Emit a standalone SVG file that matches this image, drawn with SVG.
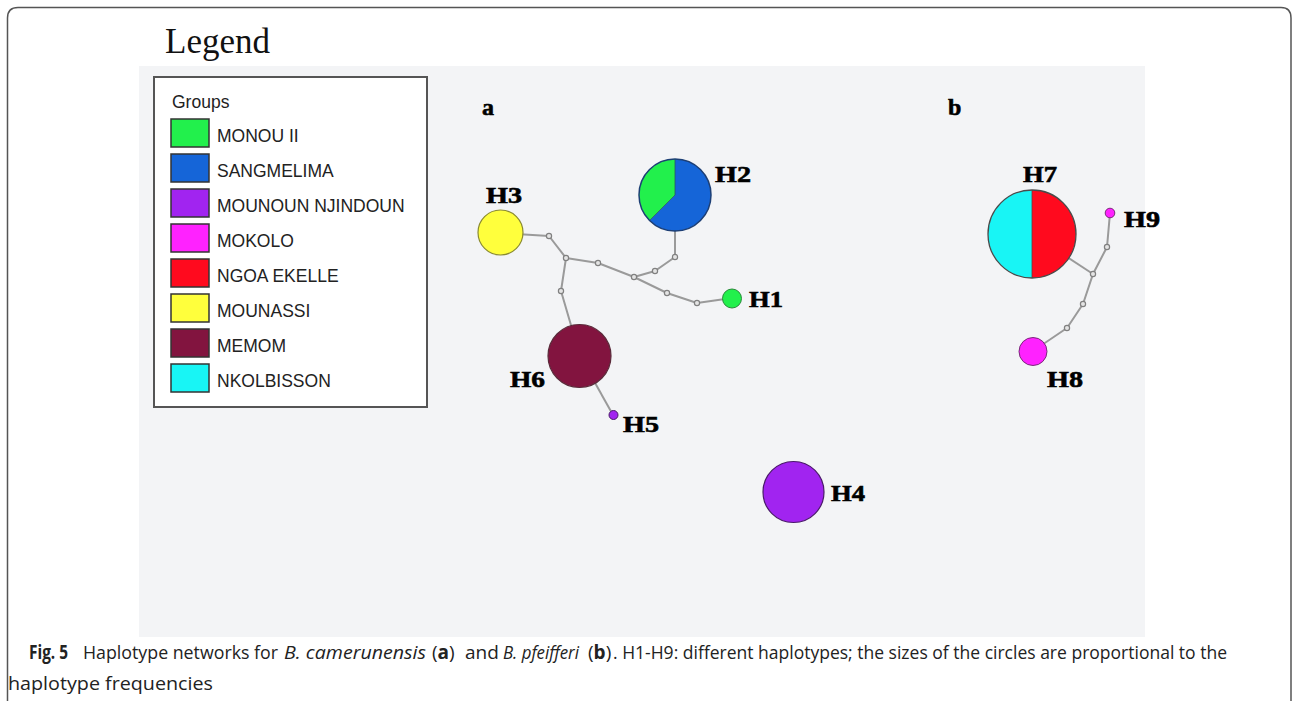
<svg xmlns="http://www.w3.org/2000/svg" width="1292" height="701" viewBox="0 0 1292 701">
<style>
.hl{font-family:"Liberation Serif","Times New Roman",serif;font-weight:bold;font-size:24px;fill:#000;stroke:#000;stroke-width:0.6}
.lg{font-family:"Liberation Sans",Arial,sans-serif;font-size:17.5px;fill:#222}
.sw{stroke:#333;stroke-width:1.5}
.edge{fill:none;stroke:#9a9a9a;stroke-width:2;stroke-linejoin:round}
.mv{fill:#e4e4e4;stroke:#808080;stroke-width:1.2}
.cap{font-family:"Open Sans","Noto Sans",sans-serif;font-size:19px;fill:#222}
.b{font-weight:bold}
.i{font-style:italic}
</style>
<rect width="1292" height="701" fill="#fff"/>
<path d="M7.5,701 V18 Q7.5,7.5 18,7.5 H1281 Q1291,7.5 1291,18 V701" fill="none" stroke="#555" stroke-width="1.5"/>
<rect x="139" y="66" width="1006" height="571" fill="#f3f4f6"/>
<text x="165" y="53" font-family="Liberation Serif,Times New Roman,serif" font-size="35" fill="#111">Legend</text>

<g id="legend">
<rect x="154" y="77" width="273" height="330" fill="#fff" stroke="#555" stroke-width="2"/>
<text class="lg" x="172" y="108">Groups</text>
<rect class="sw" x="171" y="119" width="38" height="28" fill="#22F04C"/>
<text class="lg" x="217" y="142">MONOU II</text>
<rect class="sw" x="171" y="154" width="38" height="28" fill="#1565D8"/>
<text class="lg" x="217" y="177">SANGMELIMA</text>
<rect class="sw" x="171" y="189" width="38" height="28" fill="#A124F0"/>
<text class="lg" x="217" y="212">MOUNOUN NJINDOUN</text>
<rect class="sw" x="171" y="224" width="38" height="28" fill="#FF22FF"/>
<text class="lg" x="217" y="247">MOKOLO</text>
<rect class="sw" x="171" y="259" width="38" height="28" fill="#FF0A1E"/>
<text class="lg" x="217" y="282">NGOA EKELLE</text>
<rect class="sw" x="171" y="294" width="38" height="28" fill="#FFFF3C"/>
<text class="lg" x="217" y="317">MOUNASSI</text>
<rect class="sw" x="171" y="329" width="38" height="28" fill="#82143F"/>
<text class="lg" x="217" y="352">MEMOM</text>
<rect class="sw" x="171" y="364" width="38" height="28" fill="#18F5F5"/>
<text class="lg" x="217" y="387">NKOLBISSON</text>
</g>

<text class="hl" x="482" y="115">a</text>
<text class="hl" x="948" y="115">b</text>

<g id="connectors">
<polyline class="edge" points="500,233 549,236 566,258"/>
<polyline class="edge" points="566,258 598,263 634,277"/>
<polyline class="edge" points="675,195 675,257 655,271 634,277"/>
<polyline class="edge" points="634,277 667,293 697,303 732,298"/>
<polyline class="edge" points="566,258 561,291 580,356"/>
<polyline class="edge" points="580,356 613,415"/>
<polyline class="edge" points="1032,234 1093,274"/>
<polyline class="edge" points="1093,274 1107,247 1110,213"/>
<polyline class="edge" points="1093,274 1083,304 1067,328 1033,351"/>
<circle class="mv" cx="549" cy="236" r="2.6"/>
<circle class="mv" cx="566" cy="258" r="2.6"/>
<circle class="mv" cx="598" cy="263" r="2.6"/>
<circle class="mv" cx="634" cy="277" r="2.6"/>
<circle class="mv" cx="675" cy="257" r="2.6"/>
<circle class="mv" cx="655" cy="271" r="2.6"/>
<circle class="mv" cx="667" cy="293" r="2.6"/>
<circle class="mv" cx="697" cy="303" r="2.6"/>
<circle class="mv" cx="561" cy="291" r="2.6"/>
<circle class="mv" cx="1093" cy="274" r="2.6"/>
<circle class="mv" cx="1107" cy="247" r="2.6"/>
<circle class="mv" cx="1083" cy="304" r="2.6"/>
<circle class="mv" cx="1067" cy="328" r="2.6"/>
</g>

<g id="H1">
<circle cx="732" cy="298.5" r="9.5" fill="#22F04C" stroke="#2a8a3a" stroke-width="1"/>
<text class="hl" x="749" y="307" textLength="34" lengthAdjust="spacingAndGlyphs">H1</text>
</g>
<g id="H2">
<path d="M675,195 L675,159 A36,36 0 1 1 649.54,220.46 Z" fill="#1565D8"/>
<path d="M675,195 L649.54,220.46 A36,36 0 0 1 675,159 Z" fill="#22F04C"/>
<line x1="675" y1="195" x2="675" y2="159" stroke="#2a5a5a" stroke-width="0.8"/>
<line x1="675" y1="195" x2="649.54" y2="220.46" stroke="#2a5a5a" stroke-width="0.8"/>
<circle cx="675" cy="195" r="36" fill="none" stroke="#1d3f75" stroke-width="1.5"/>
<text class="hl" x="715" y="182" textLength="36" lengthAdjust="spacingAndGlyphs">H2</text>
</g>
<g id="H3">
<circle cx="500.5" cy="232.5" r="22.5" fill="#FFFF3C" stroke="#8a8a30" stroke-width="1.2"/>
<text class="hl" x="486" y="203" textLength="36" lengthAdjust="spacingAndGlyphs">H3</text>
</g>
<g id="H4">
<circle cx="793.5" cy="492" r="30.5" fill="#A124F0" stroke="#4a1a6a" stroke-width="1.2"/>
<text class="hl" x="831" y="501" textLength="34" lengthAdjust="spacingAndGlyphs">H4</text>
</g>
<g id="H5">
<circle cx="613.5" cy="415" r="4.5" fill="#A124F0" stroke="#4a1a6a" stroke-width="1"/>
<text class="hl" x="623" y="432" textLength="36" lengthAdjust="spacingAndGlyphs">H5</text>
</g>
<g id="H6">
<circle cx="579.5" cy="356" r="31.5" fill="#82143F" stroke="#5a2a3a" stroke-width="1.2"/>
<text class="hl" x="510" y="387" textLength="35" lengthAdjust="spacingAndGlyphs">H6</text>
</g>
<g id="H7">
<path d="M1032,190 A44,44 0 0 0 1032,278 Z" fill="#18F5F5"/>
<path d="M1032,190 A44,44 0 0 1 1032,278 Z" fill="#FF0A1E"/>
<line x1="1032" y1="190" x2="1032" y2="278" stroke="#6a3a3a" stroke-width="0.8"/>
<circle cx="1032" cy="234" r="44" fill="none" stroke="#4a4a4a" stroke-width="1.3"/>
<text class="hl" x="1023" y="182" textLength="34" lengthAdjust="spacingAndGlyphs">H7</text>
</g>
<g id="H8">
<circle cx="1033" cy="351.5" r="14" fill="#FF22FF" stroke="#7a2a7a" stroke-width="1"/>
<text class="hl" x="1047" y="387" textLength="36" lengthAdjust="spacingAndGlyphs">H8</text>
</g>
<g id="H9">
<circle cx="1110" cy="213" r="4.8" fill="#FF22FF" stroke="#7a2a7a" stroke-width="1"/>
<text class="hl" x="1124" y="227" textLength="36" lengthAdjust="spacingAndGlyphs">H9</text>
</g>

<g id="caption">
<text class="cap b" x="29" y="659" font-size="17" textLength="39" lengthAdjust="spacingAndGlyphs">Fig. 5</text>
<text class="cap" x="83" y="659" textLength="195" lengthAdjust="spacingAndGlyphs">Haplotype networks for</text>
<text class="cap i" x="284" y="659" font-size="19.5" textLength="142" lengthAdjust="spacingAndGlyphs">B. camerunensis</text>
<text class="cap" x="432" y="659">(<tspan class="b">a</tspan>)</text>
<text class="cap" x="465" y="659">and</text>
<text class="cap i" x="503" y="659" font-size="18" textLength="76" lengthAdjust="spacingAndGlyphs">B. pfeifferi</text>
<text class="cap" x="588" y="659">(<tspan class="b">b</tspan>)</text>
<text class="cap" x="613" y="659" font-size="18.5" textLength="614" lengthAdjust="spacingAndGlyphs">. H1-H9: different haplotypes; the sizes of the circles are proportional to the</text>
<text class="cap" x="8" y="690" font-size="19.5" textLength="205" lengthAdjust="spacingAndGlyphs">haplotype frequencies</text>
</g>
</svg>
